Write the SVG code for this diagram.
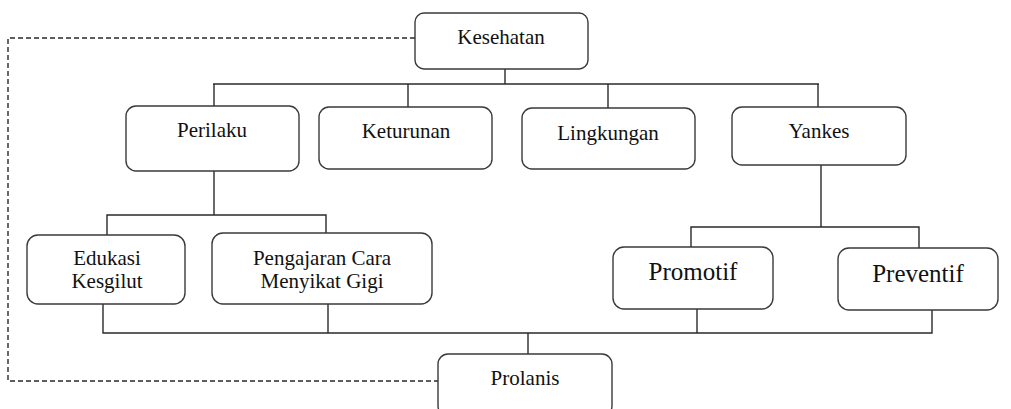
<svg xmlns="http://www.w3.org/2000/svg" width="1011" height="409" viewBox="0 0 1011 409">
<style>
.box{fill:#fff;stroke:#3a3a3a;stroke-width:1.4}
.t{font-size:21px;fill:#111;text-anchor:middle}
.big{font-size:25px}
.ln{fill:none;stroke:#2a2a2a;stroke-width:1.4}
.dash{fill:none;stroke:#2a2a2a;stroke-width:1.4;stroke-dasharray:5 3}
</style>
<rect width="1011" height="409" fill="#fff"/>
<g id="connectors">
<polyline class="dash" points="415,38 8,38 8,381 438,381"/>
<line class="ln" x1="505" y1="69" x2="505" y2="84"/>
<line class="ln" x1="213" y1="84" x2="819" y2="84"/>
<line class="ln" x1="214" y1="84" x2="214" y2="106"/>
<line class="ln" x1="408" y1="84" x2="408" y2="107"/>
<line class="ln" x1="608" y1="84" x2="608" y2="108"/>
<line class="ln" x1="818" y1="84" x2="818" y2="107"/>
<line class="ln" x1="214" y1="171" x2="214" y2="215"/>
<polyline class="ln" points="107,235 107,215 326,215 326,233"/>
<line class="ln" x1="821" y1="165" x2="821" y2="227"/>
<polyline class="ln" points="691,247 691,227 919,227 919,248"/>
<polyline class="ln" points="103,304 103,333 932,333 932,310"/>
<line class="ln" x1="328" y1="304" x2="328" y2="333"/>
<line class="ln" x1="697" y1="309" x2="697" y2="333"/>
<line class="ln" x1="528" y1="333" x2="528" y2="354"/>
</g>
<g font-family="'Liberation Serif', 'Times New Roman', 'DejaVu Serif', serif">
<g id="kesehatan"><rect class="box" x="415" y="13" width="173" height="56" rx="9"/><text class="t" x="501" y="44">Kesehatan</text></g>
<g id="perilaku"><rect class="box" x="126" y="106" width="173" height="65" rx="10"/><text class="t" x="212" y="137">Perilaku</text></g>
<g id="keturunan"><rect class="box" x="319" y="107" width="173" height="62" rx="10"/><text class="t" x="406" y="138">Keturunan</text></g>
<g id="lingkungan"><rect class="box" x="522" y="108" width="173" height="61" rx="10"/><text class="t" x="608" y="140">Lingkungan</text></g>
<g id="yankes"><rect class="box" x="732" y="107" width="174" height="58" rx="10"/><text class="t" x="819" y="138">Yankes</text></g>
<g id="edukasi"><rect class="box" x="27" y="235" width="158" height="69" rx="11"/><text class="t" x="107" y="265">Edukasi</text><text class="t" x="107" y="288">Kesgilut</text></g>
<g id="pengajaran"><rect class="box" x="212" y="233" width="220" height="71" rx="11"/><text class="t" x="322" y="265">Pengajaran Cara</text><text class="t" x="322" y="288">Menyikat Gigi</text></g>
<g id="promotif"><rect class="box" x="613" y="247" width="160" height="62" rx="11"/><text class="t big" x="693" y="280">Promotif</text></g>
<g id="preventif"><rect class="box" x="838" y="248" width="160" height="62" rx="11"/><text class="t big" x="918" y="282">Preventif</text></g>
<g id="prolanis"><rect class="box" x="438" y="354" width="174" height="62" rx="10"/><text class="t" x="525" y="385">Prolanis</text></g>
</g>
</svg>
